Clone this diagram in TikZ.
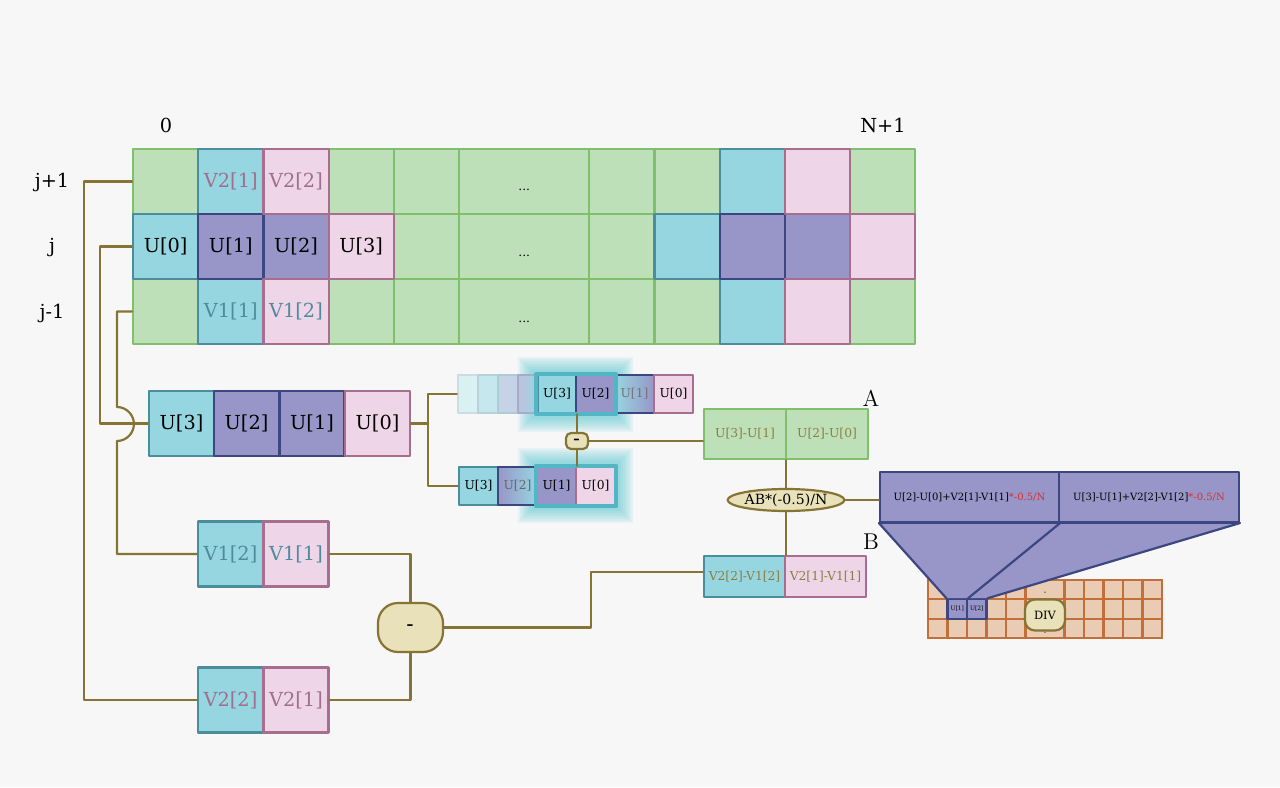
\documentclass[tikz,border=0pt]{standalone}
\usepackage{fontspec}
\newfontfamily\dejavu{DejaVu Serif}
\usepackage{xcolor}
\usetikzlibrary{shapes.geometric,calc}
\definecolor{bgc}{RGB}{247,247,247}
\definecolor{grfill}{RGB}{190,224,184}
\definecolor{grline}{RGB}{128,192,108}
\definecolor{cyfill}{RGB}{150,214,224}
\definecolor{cyline}{RGB}{74,142,158}
\definecolor{pufill}{RGB}{152,150,200}
\definecolor{puline}{RGB}{60,70,128}
\definecolor{pkfill}{RGB}{239,213,232}
\definecolor{pkline}{RGB}{168,110,142}
\definecolor{olive}{RGB}{133,116,52}
\definecolor{pillfill}{RGB}{232,225,186}
\definecolor{orfill}{RGB}{234,204,180}
\definecolor{orline}{RGB}{192,112,56}
\definecolor{vtwotxt}{RGB}{160,110,142}
\definecolor{vonetxt}{RGB}{78,140,156}
\definecolor{abtxt}{RGB}{140,126,66}
\definecolor{glowc}{RGB}{92,200,210}
\definecolor{hlc}{RGB}{82,182,196}
\definecolor{redtxt}{RGB}{214,48,48}
\newcommand{\fsz}[1]{\fontsize{#1}{#1}\selectfont}

\begin{document}
\begin{tikzpicture}[line cap=round,line join=round,x=0.02cm,y=-0.02cm,
    cell/.style={draw, line width=1.25pt, inner sep=0pt, minimum width=1.304cm, minimum height=1.3cm, font={\dejavu\fsz{11}}},
    gr/.style={cell, fill=grfill, draw=grline},
    cy/.style={cell, fill=cyfill, draw=cyline},
    pu/.style={cell, fill=pufill, draw=puline},
    pk/.style={cell, fill=pkfill, draw=pkline},
    wide/.style={minimum width=2.608cm},
    sm/.style={draw, line width=1.25pt, inner sep=0pt, minimum width=0.78cm, minimum height=0.76cm, font={\dejavu\fsz{7}}},
    half/.style={sm, minimum width=0.4cm},
    op/.style={draw=olive, fill=pillfill, line width=1.25pt, inner sep=0pt},
    wire/.style={draw=olive, line width=1.25pt},
    lbl/.style={font={\dejavu\fsz{11}}},
    dots/.style={font={\dejavu\fsz{7}}},
    glow/.style={fill=glowc, opacity=0.11}]
    \fill[bgc] (0,0) rectangle (1280,787);
    \useasboundingbox (0,0) rectangle (1280,787);
    % index labels
    \node[lbl] (lzero) at (166,125) {0};
    \node[lbl] (lend) at (883,125) {N+1};
    \node[lbl] (lup) at (52,182) {j+1};
    \node[lbl] (lmid) at (52,248) {j};
    \node[lbl] (llow) at (52,313) {j-1};
    % grid, green cells
    \node[gr] (r0c0) at (165.6,181.5) {};
    \node[gr] (r0c3) at (361.2,181.5) {};
    \node[gr] (r0c4) at (426.4,181.5) {};
    \node[gr,wide] (r0c5) at (524.2,181.5) {};
    \node[gr] (r0c6) at (621.8,181.5) {};
    \node[gr] (r0c7) at (687,181.5) {};
    \node[gr] (r0c10) at (882.6,181.5) {};
    \node[gr] (r1c4) at (426.4,246.5) {};
    \node[gr,wide] (r1c5) at (524.2,246.5) {};
    \node[gr] (r1c6) at (621.8,246.5) {};
    \node[gr] (r2c0) at (165.6,311.5) {};
    \node[gr] (r2c3) at (361.2,311.5) {};
    \node[gr] (r2c4) at (426.4,311.5) {};
    \node[gr,wide] (r2c5) at (524.2,311.5) {};
    \node[gr] (r2c6) at (621.8,311.5) {};
    \node[gr] (r2c7) at (687,311.5) {};
    \node[gr] (r2c10) at (882.6,311.5) {};
    \node[dots] (dt0) at (524.2,190) {...};
    \node[dots] (dt1) at (524.2,256) {...};
    \node[dots] (dt2) at (524.2,322) {...};
    % grid, coloured cells
    \node[cy,text=vtwotxt] (r0c1) at (230.8,181.5) {V2[1]};
    \node[cy] (r0c8) at (752.2,181.5) {};
    \node[cy] (r1c0) at (165.6,246.5) {U[0]};
    \node[cy] (r1c7) at (687,246.5) {};
    \node[cy,text=vonetxt] (r2c1) at (230.8,311.5) {V1[1]};
    \node[cy] (r2c8) at (752.2,311.5) {};
    \node[pu] (r1c1) at (230.8,246.5) {U[1]};
    \node[pu] (r1c2) at (296,246.5) {U[2]};
    \node[pu] (r1c8) at (752.2,246.5) {};
    \node[pu] (r1c9) at (817.4,246.5) {};
    \node[pk,text=vtwotxt] (r0c2) at (296,181.5) {V2[2]};
    \node[pk] (r0c9) at (817.4,181.5) {};
    \node[pk] (r1c3) at (361.2,246.5) {U[3]};
    \node[pk] (r1c10) at (882.6,246.5) {};
    \node[pk,text=vonetxt] (r2c2) at (296,311.5) {V1[2]};
    \node[pk] (r2c9) at (817.4,311.5) {};
    % row j, reversed
    \node[cy,minimum width=1.3cm] (s3) at (181.5,423.5) {U[3]};
    \node[pu,minimum width=1.3cm] (s2) at (246.5,423.5) {U[2]};
    \node[pu,minimum width=1.3cm] (s1) at (312,423.5) {U[1]};
    \node[pk,minimum width=1.3cm] (s0) at (377.5,423.5) {U[0]};
    % V pairs
    \node[cy,minimum width=1.3cm,text=vonetxt] (w12) at (230.5,554) {V1[2]};
    \node[pk,minimum width=1.3cm,text=vonetxt] (w11) at (296,554) {V1[1]};
    \node[cy,minimum width=1.3cm,text=vtwotxt] (w22) at (230.5,700) {V2[2]};
    \node[pk,minimum width=1.3cm,text=vtwotxt] (w21) at (296,700) {V2[1]};
    % glow
    \foreach \k in {0,...,10} {
        \fill[glow] (518+2*\k,357+2*\k) rectangle (633-2*\k,432-2*\k);
        \fill[glow] (518+2*\k,448+2*\k) rectangle (633-2*\k,523-2*\k);
    }
    % shifted rows
    \node[half,fill=cyfill!35!white,draw=cyline!30!white] (f1) at (468,394) {};
    \node[half,fill=cyfill!55!white,draw=cyline!40!white] (f2) at (488,394) {};
    \node[half,fill=cyfill!40!pufill!55!white,draw=cyline!45!white] (f3) at (508,394) {};
    \node[half,left color=pufill!60!white,right color=cyfill,draw=puline!45!white] (f4) at (528,394) {};
    \node[sm,fill=cyfill,draw=cyline] (t3) at (557,394) {U[3]};
    \node[sm,fill=pufill,draw=puline] (t2) at (595.5,394) {U[2]};
    \node[sm,left color=cyfill,right color=pufill,draw=puline,text=black!55] (t1) at (634.5,394) {U[1]};
    \node[sm,fill=pkfill,draw=pkline] (t0) at (673.5,394) {U[0]};
    \node[sm,fill=cyfill,draw=cyline] (b3) at (478.5,486) {U[3]};
    \node[sm,left color=pufill,right color=cyfill,draw=puline,text=black!60] (b2) at (517.5,486) {U[2]};
    \node[sm,fill=pufill,draw=puline] (b1) at (556.5,486) {U[1]};
    \node[sm,fill=pkfill,draw=pkline] (b0) at (595.5,486) {U[0]};
    \draw[draw=hlc,line width=2.2pt] (t3.north west) rectangle (t2.south east);
    \draw[draw=hlc,line width=2.2pt] (b1.north west) rectangle (b0.south east);
    % subtraction nodes
    \node[op,rounded corners=0.1cm,minimum width=0.44cm,minimum height=0.32cm,font=\bfseries\fsz{9}] (mn) at (577,441) {-};
    \node[op,rounded corners=0.4cm,minimum width=1.3cm,minimum height=0.98cm,font=\bfseries\fsz{10}] (pm) at (410.5,627.5) {-};
    % A and B
    \node[gr,minimum width=1.64cm,minimum height=1cm,font={\dejavu\fsz{7}},text=abtxt] (a1) at (745,434) {U[3]-U[1]};
    \node[gr,minimum width=1.64cm,minimum height=1cm,font={\dejavu\fsz{7}},text=abtxt] (a2) at (827,434) {U[2]-U[0]};
    \node[cy,minimum width=1.62cm,minimum height=0.82cm,font={\dejavu\fsz{7}},text=abtxt] (bb1) at (744.5,576.5) {V2[2]-V1[2]};
    \node[pk,minimum width=1.62cm,minimum height=0.82cm,font={\dejavu\fsz{7}},text=abtxt] (bb2) at (825.5,576.5) {V2[1]-V1[1]};
    \node[font=\fsz{13}] (la) at (871,398) {A};
    \node[font=\fsz{13}] (lb) at (871,542) {B};
    \node[op,ellipse,minimum width=2.1cm,minimum height=0.44cm,font={\dejavu\fsz{8}}] (el) at (786,500) {AB*(-0.5)/N};
    % result row and DIV grid
    \fill[orfill] (928,580) rectangle (1162,638);
    \foreach \x in {928,947.5,967,986.5,1006,1025.5,1064.5,1084,1103.5,1123,1142.5,1162}
        \draw[orline,line width=1.25pt] (\x,580) -- (\x,638);
    \foreach \y in {580,599.3,618.7,638}
        \draw[orline,line width=1.25pt] (928,\y) -- (1162,\y);
    \node[font={\dejavu\fsz{4}}] (dvt) at (1045,593) {-};
    \node[font={\dejavu\fsz{4}}] (dvb) at (1045,633) {-};
    \node[sm,fill=pufill,draw=puline,minimum width=0.39cm,minimum height=0.387cm,font={\dejavu\fsz{3.4}}] (d1) at (957.25,609) {U[1]};
    \node[sm,fill=pufill,draw=puline,minimum width=0.39cm,minimum height=0.387cm,font={\dejavu\fsz{3.4}}] (d2) at (976.75,609) {U[2]};
    \node[op,rounded corners=0.2cm,minimum width=0.8cm,minimum height=0.62cm,font={\dejavu\fsz{6.5}}] (dv) at (1045,615) {DIV};
    \node[pu,minimum width=3.58cm,minimum height=1cm,font={\dejavu\fsz{5.7}}] (k1) at (969.5,497) {U[2]-U[0]+V2[1]-V1[1]\textcolor{redtxt}{*-0.5/N}};
    \node[pu,minimum width=3.59cm,minimum height=1cm,font={\dejavu\fsz{5.7}}] (k2) at (1149,497) {U[3]-U[1]+V2[2]-V1[2]\textcolor{redtxt}{*-0.5/N}};
    \fill[pufill] (k1.south west) -- (k2.south east) -- (d2.north east) -- (d1.north west) -- cycle;
    \draw[puline,line width=1.25pt] (k1.south west) -- (d1.north west);
    \draw[puline,line width=1.25pt] (k1.south east) -- (d1.north east);
    \draw[puline,line width=1.25pt] (k2.south east) -- (d2.north east);
    \draw[puline,line width=1.25pt] (k1.south west) -- (k2.south east);
    % wires
    \draw[wire] (r0c0.west) -- ++(-48,0) |- (w22.west);
    \draw[wire] (r1c0.west) -- ++(-32,0) |- (s3.west);
    \draw[wire] (r2c0.west) -- ++(-15,0) -- ++(0,95.5) arc(90:-90:0.34cm) |- (w12.west);
    \draw[wire] (s0.east) -- ++(17,0) coordinate (fork);
    \draw[wire] (fork) |- (f1.west);
    \draw[wire] (fork) |- (b3.west);
    \draw[wire] (mn.north) -- (mn.north |- t3.south);
    \draw[wire] (mn.south) -- (mn.south |- b0.north);
    \draw[wire] (mn.east) -- (mn.east -| a1.west);
    \draw[wire] (el.north) -- (el.north |- a1.south);
    \draw[wire] (el.south) -- (el.south |- bb1.north);
    \draw[wire] (el.east) -- (el.east -| k1.west);
    \draw[wire] (w11.east) -| (pm.north);
    \draw[wire] (w21.east) -| (pm.south);
    \draw[wire] (pm.east) -- ++(147,0) |- ([yshift=0.09cm]bb1.west);
\end{tikzpicture}
\end{document}
